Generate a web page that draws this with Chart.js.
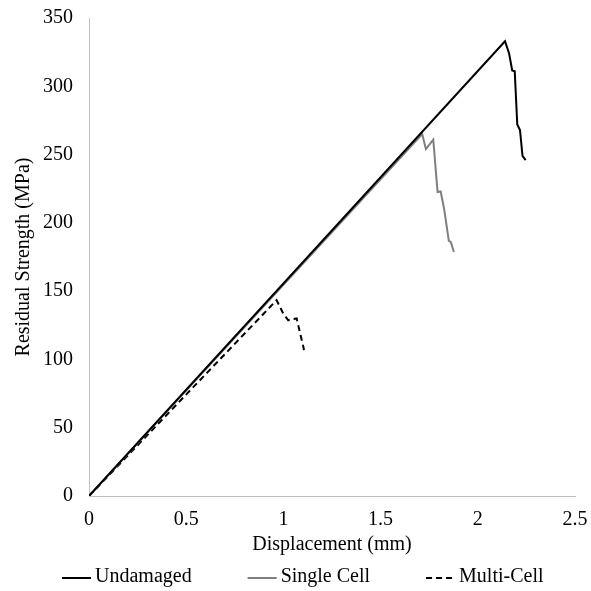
<!DOCTYPE html>
<html>
<head>
<meta charset="utf-8">
<script src="https://cdn.jsdelivr.net/npm/chart.js@4/dist/chart.umd.min.js"></script>
<style>
  body { margin: 0; background: #fff; }
  #wrap { width: 591px; height: 591px; }
</style>
</head>
<body>
<div id="wrap"><canvas id="chart" width="591" height="591"></canvas></div>
<script>
// readings (displacement in mm, strength in MPa)
const undamagedX = [0, 2.14, 2.161, 2.177, 2.19, 2.203, 2.217, 2.23, 2.246]
const undamagedY = [0, 333, 324, 311.6, 311, 272, 268, 249, 246]
const singleX = [0, 1.714, 1.733, 1.771, 1.793, 1.809, 1.827, 1.851, 1.861, 1.877]
const singleY = [0, 265, 254, 261, 222.6, 223, 210, 186.8, 186, 178.7]
const multiX = [0, 0.965, 0.999, 1.025, 1.045, 1.068, 1.103, 1.106]
const multiY = [0, 143.4, 133.6, 128.7, 129.5, 130, 109, 106.8]
const xTicks = [0, 0.5, 1, 1.5, 2, 2.5]
const yTicks = [0, 50, 100, 150, 200, 250, 300, 350]

const toPoints = (xs, ys) => xs.map((x, i) => ({ x: x, y: ys[i] }))
const fontFamily = '"Liberation Serif", "Times New Roman", serif'
const font = { family: fontFamily, size: 20 }
const axisColor = '#bfbfbf'

// Excel-style legend row: short line sample, then the label, items spread wide
const lineLegend = {
  id: 'lineLegend',
  afterDraw(chart) {
    const ctx = chart.ctx
    const y = 578
    let x = 62
    ctx.save()
    ctx.font = '20px ' + fontFamily
    ctx.textBaseline = 'middle'
    ctx.fillStyle = '#000'
    chart.data.datasets.forEach((ds) => {
      ctx.beginPath()
      ctx.setLineDash(ds.borderDash || [])
      ctx.strokeStyle = ds.borderColor
      ctx.lineWidth = ds.borderWidth
      ctx.moveTo(x, y)
      ctx.lineTo(x + 29, y)
      ctx.stroke()
      ctx.fillText(ds.label, x + 33, y - 1)
      x += 33 + ctx.measureText(ds.label).width + 56
    })
    ctx.restore()
  }
}

new Chart(document.getElementById('chart'), {
  type: 'line',
  data: {
    datasets: [{
      label: 'Undamaged',
      data: toPoints(undamagedX, undamagedY),
      borderColor: '#000000',
      borderWidth: 2
    }, {
      label: 'Single Cell',
      data: toPoints(singleX, singleY),
      borderColor: '#7f7f7f',
      borderWidth: 2
    }, {
      label: 'Multi-Cell',
      data: toPoints(multiX, multiY),
      borderColor: '#000000',
      borderWidth: 2,
      borderDash: [6, 4]
    }]
  },
  options: {
    responsive: false,
    animation: false,
    elements: { point: { radius: 0 }, line: { tension: 0 } },
    layout: { padding: { top: 18, right: 16, left: 8, bottom: 34 } },
    plugins: {
      tooltip: { enabled: false },
      legend: { display: false }
    },
    scales: {
      x: {
        type: 'linear',
        min: 0,
        max: 2.5,
        afterBuildTicks: (s) => { s.ticks = xTicks.map(v => ({ value: v })) },
        afterFit: (s) => { s.height = 61; s.paddingLeft = 0; s.paddingRight = 0 },
        grid: { display: false, drawTicks: false },
        border: { display: true, color: axisColor, width: 1 },
        ticks: { font: font, color: '#000', padding: 12, maxRotation: 0, callback: (v) => String(v) },
        title: { display: true, text: 'Displacement (mm)', font: font, color: '#000', padding: { top: 0, bottom: 0 } }
      },
      y: {
        type: 'linear',
        min: 0,
        max: 350,
        afterBuildTicks: (s) => { s.ticks = yTicks.map(v => ({ value: v })) },
        afterFit: (s) => { s.width = 81; s.paddingTop = 0; s.paddingBottom = 0 },
        grid: { display: false, drawTicks: false },
        border: { display: true, color: axisColor, width: 1 },
        ticks: { font: font, color: '#000', padding: 16 },
        title: { display: true, text: 'Residual Strength (MPa)', font: font, color: '#000', padding: { top: 4, bottom: 0 } }
      }
    }
  },
  plugins: [lineLegend]
})
</script>
</body>
</html>
